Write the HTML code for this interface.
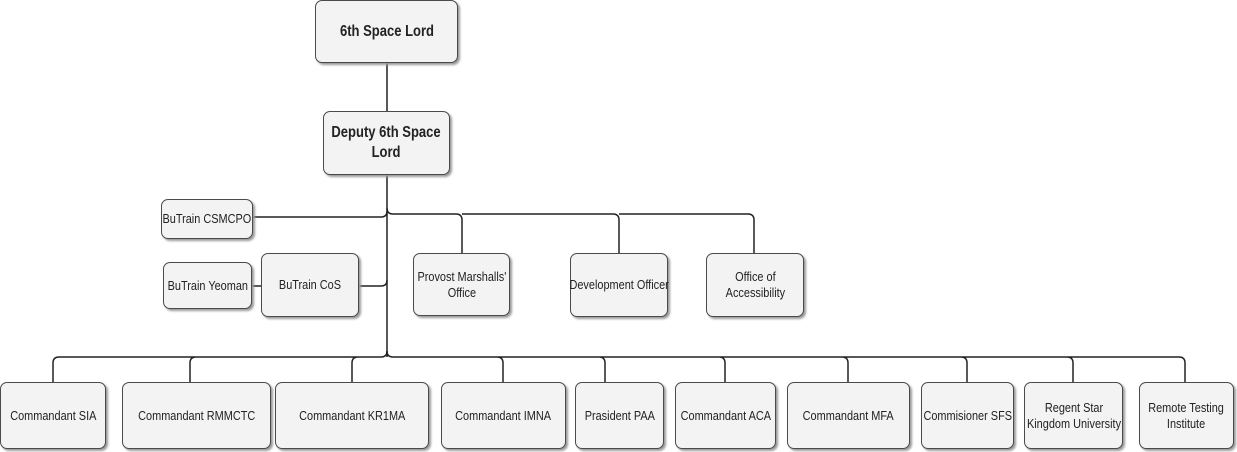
<!DOCTYPE html>
<html><head><meta charset="utf-8"><style>
body{margin:0;width:1237px;height:452px;background:#fff;position:relative;overflow:hidden;font-family:"Liberation Sans",sans-serif;}
.b{position:absolute;box-sizing:border-box;border:1.3px solid #4a4a4a;border-radius:7px;background:#f3f3f3;box-shadow:2px 2px 2px #9a9a9a;display:flex;align-items:center;justify-content:center;text-align:center;color:#222;font-size:13px;line-height:16px;}
.b span{display:inline-block;transform:scaleX(.84);white-space:nowrap;}
.bold{font-weight:bold;font-size:15.5px;line-height:20px;}
svg{position:absolute;left:0;top:0;}
</style></head><body>
<svg width="1237" height="452" fill="none" stroke="#222" stroke-width="1.5">
<path d="M387 63V357"/>
<path d="M253 217H381Q387 217 387 211"/>
<path d="M387 208Q387 214 393 214H456Q462 214 462 220V253M462 214H613Q619 214 619 220V253M619 214H748Q754 214 754 220V253"/>
<path d="M359 286H381Q387 286 387 280"/>
<path d="M252 286H261"/>
<path d="M387 351Q387 357 381 357H59Q53 357 53 363V382M387 357M196 357Q190 357 190 363V382M358 357Q352 357 352 363V382"/>
<path d="M387 351Q387 357 393 357H1179Q1185 357 1185 363V382M497 357Q503 357 503 363V382M599 357Q605 357 605 363V382M719 357Q725 357 725 363V382M842 357Q848 357 848 363V382M961 357Q967 357 967 363V382M1067 357Q1073 357 1073 363V382"/>
</svg>
<div class="b bold" style="left:315px;top:0;width:143px;height:63px"><span>6th Space Lord</span></div>
<div class="b bold" style="left:323px;top:111px;width:127px;height:64px"><span>Deputy 6th Space<br>Lord</span></div>
<div class="b" style="left:161px;top:199px;width:92px;height:40px"><span>BuTrain CSMCPO</span></div>
<div class="b" style="left:163px;top:262px;width:89px;height:47px"><span>BuTrain Yeoman</span></div>
<div class="b" style="left:261px;top:253px;width:98px;height:64px"><span>BuTrain CoS</span></div>
<div class="b" style="left:413px;top:253px;width:97px;height:63px"><span>Provost Marshalls'<br>Office</span></div>
<div class="b" style="left:570px;top:253px;width:98px;height:64px"><span>Development Officer</span></div>
<div class="b" style="left:706px;top:253px;width:98px;height:64px"><span>Office of<br>Accessibility</span></div>
<div class="b" style="left:0;top:382px;width:106px;height:67px"><span>Commandant SIA</span></div>
<div class="b" style="left:122px;top:382px;width:149px;height:67px"><span>Commandant RMMCTC</span></div>
<div class="b" style="left:275px;top:382px;width:154px;height:67px"><span>Commandant KR1MA</span></div>
<div class="b" style="left:441px;top:382px;width:125px;height:67px"><span>Commandant IMNA</span></div>
<div class="b" style="left:575px;top:382px;width:89px;height:67px"><span>Prasident PAA</span></div>
<div class="b" style="left:675px;top:382px;width:101px;height:67px"><span>Commandant ACA</span></div>
<div class="b" style="left:787px;top:382px;width:123px;height:67px"><span>Commandant MFA</span></div>
<div class="b" style="left:921px;top:382px;width:93px;height:67px"><span>Commisioner SFS</span></div>
<div class="b" style="left:1024px;top:382px;width:99px;height:67px"><span>Regent Star<br>Kingdom University</span></div>
<div class="b" style="left:1139px;top:382px;width:95px;height:67px"><span>Remote Testing<br>Institute</span></div>
</body></html>
